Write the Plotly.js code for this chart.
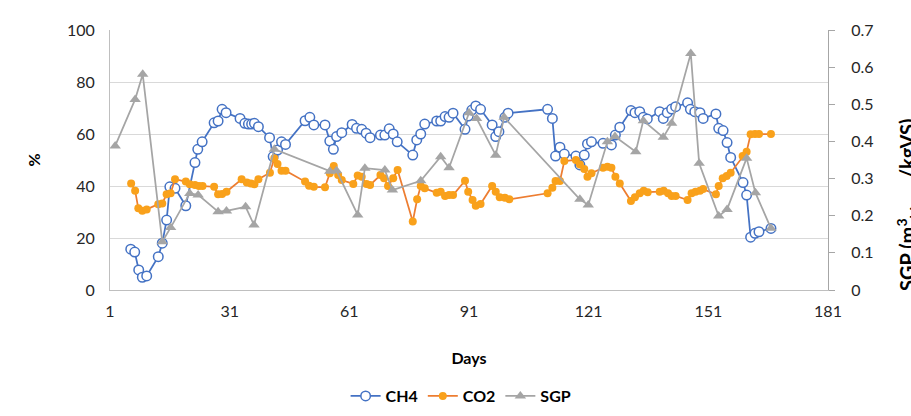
<!DOCTYPE html>
<html>
<head>
<meta charset="utf-8">
<script src="https://cdn.plot.ly/plotly-3.0.1.min.js"></script>
<style>html,body{margin:0;padding:0;background:#fff;}#chart{width:911px;height:416px;}</style>
</head>
<body>
<div id="chart"></div>
<script>
const ch4Days = [6.2,7.2,8.2,9.1,10.2,13.1,14.1,15.2,16.0,17.3,
  20.0,22.3,23.0,24.1,27.1,28.1,29.1,30.1,33.6,34.8,
  35.7,36.5,37.2,38.2,41.0,41.9,43.0,44.0,45.0,49.9,
  51.1,52.1,54.9,56.1,57.0,57.8,59.1,61.7,62.8,64.1,
  65.2,66.2,68.8,69.9,71.0,72.0,73.0,76.9,77.9,78.9,
  79.9,82.9,83.9,85.0,86.0,87.0,90.0,90.8,91.7,92.7,
  93.9,96.8,97.7,98.5,100.0,100.8,110.7,111.9,112.7,113.8,
  114.9,117.8,118.8,119.9,120.7,121.7,124.6,126.7,127.7,128.8,
  131.6,132.6,133.8,134.7,135.7,138.8,139.7,140.7,141.8,142.8,
  145.8,146.5,147.6,148.9,149.7,152.9,153.6,154.7,155.7,156.6,
  159.7,160.6,161.6,162.7,163.7,166.7];
const ch4 = [15.7,14.6,7.7,4.9,5.4,12.8,18.0,26.9,39.7,39.1,
  32.4,49.0,54.1,57.0,64.3,65.0,69.5,68.2,66.0,64.1,
  63.8,63.8,64.1,62.8,58.6,51.3,53.8,57.0,56.0,65.1,
  66.4,63.5,63.5,57.3,54.1,59.0,60.5,63.7,62.2,61.8,
  60.3,58.6,59.6,59.6,62.0,60.0,57.0,51.9,57.7,60.0,
  63.8,65.0,65.0,66.7,66.4,68.0,61.8,66.9,69.2,70.8,
  69.5,63.5,59.0,60.9,66.4,68.0,69.5,66.0,51.5,54.9,
  52.3,51.5,48.1,51.9,56.2,57.0,56.4,55.8,59.6,62.6,
  69.0,68.2,68.6,66.4,65.8,68.6,66.0,68.2,69.6,70.5,
  72.0,69.5,68.6,68.2,66.0,67.7,62.2,61.3,56.7,51.0,
  41.3,36.5,20.3,21.8,22.4,23.7];

const co2Days = [6.3,7.3,8.1,9.1,10.2,13.1,14.1,15.2,16.2,17.3,
  20.0,21.0,22.3,23.3,24.2,27.1,28.1,29.1,30.2,34.0,
  35.3,36.3,37.2,38.2,41.1,42.2,43.0,44.0,45.0,49.9,
  50.9,52.1,54.9,56.1,57.1,58.2,59.1,62.0,63.1,64.1,
  65.3,66.2,68.8,69.7,70.7,72.0,73.1,76.9,78.0,78.9,
  79.9,82.9,83.9,85.0,86.0,87.0,90.0,90.8,91.9,92.7,
  93.9,96.8,97.7,98.7,100.0,101.1,110.7,111.9,112.7,113.8,
  114.9,117.8,118.8,119.9,120.7,121.7,124.6,125.7,126.7,127.7,
  128.8,131.6,132.6,133.8,134.8,135.8,138.8,139.8,140.9,141.8,
  142.8,145.8,146.8,147.8,148.9,149.7,152.9,153.6,154.6,155.6,
  156.6,159.6,160.6,161.6,162.7,163.7,166.7];
const co2 = [41.0,38.2,31.4,30.5,31.0,33.0,33.3,36.8,37.2,42.6,
  41.7,40.7,40.4,40.0,40.0,39.7,36.8,36.9,37.8,42.6,
  41.3,41.0,40.7,42.6,45.1,50.7,48.5,45.9,45.9,41.7,
  40.1,39.7,39.5,44.9,47.7,44.2,42.3,40.8,44.0,43.6,
  40.8,40.4,44.2,43.0,40.0,43.0,46.2,26.3,34.9,40.0,
  39.1,37.4,37.8,36.2,36.5,36.5,42.0,37.8,34.6,32.4,
  33.1,40.0,37.8,35.7,35.5,34.9,37.2,39.3,41.9,41.9,
  49.6,50.0,48.3,46.5,43.6,44.9,47.0,47.4,47.0,43.6,
  41.0,34.2,35.7,37.2,38.2,37.6,37.8,38.2,37.2,36.2,
  36.2,34.6,37.2,37.8,38.2,38.8,36.8,40.0,43.0,43.8,
  45.1,51.5,53.2,59.9,60.0,60.0,60.0];

const sgpDays = [2.3,7.3,9.2,14.1,16.2,21.0,23.1,28.1,30.2,35.0,
  37.1,42.2,56.1,57.8,63.1,64.9,69.9,71.8,78.9,83.9,
  86.0,91.0,92.9,97.7,99.8,118.8,120.9,125.7,127.6,132.8,
  134.7,139.7,141.8,146.6,148.7,153.6,155.7,160.6,162.8,166.7];
const sgp = [0.388,0.513,0.581,0.130,0.168,0.260,0.256,0.211,0.213,0.224,
  0.175,0.379,0.320,0.321,0.202,0.328,0.323,0.269,0.294,0.359,
  0.329,0.477,0.462,0.363,0.465,0.244,0.229,0.399,0.413,0.372,
  0.456,0.411,0.449,0.637,0.341,0.199,0.217,0.355,0.262,0.166];

const FONT = 'Lato, "Open Sans", sans-serif';

const traces = [
  {x: ch4Days, y: ch4, name: 'CH4', type: 'scatter', mode: 'lines+markers',
   line: {color: '#4472C4', width: 1.75},
   marker: {symbol: 'circle', size: 9.5, color: '#FFFFFF', line: {color: '#4472C4', width: 1.5}}},
  {x: co2Days, y: co2, name: 'CO2', type: 'scatter', mode: 'lines+markers',
   line: {color: '#ED7D31', width: 1.75},
   marker: {symbol: 'circle', size: 8, color: '#F9A11B', line: {width: 0}}},
  {x: sgpDays, y: sgp, name: 'SGP', type: 'scatter', mode: 'lines+markers', yaxis: 'y2',
   line: {color: '#A5A5A5', width: 1.75},
   marker: {symbol: 'triangle-up', size: 10, color: '#A5A5A5', line: {width: 0}}}
];

const layout = {
  width: 911, height: 416,
  margin: {l: 110, r: 83, t: 30, b: 126, autoexpand: false},
  paper_bgcolor: '#FFFFFF', plot_bgcolor: '#FFFFFF',
  font: {family: FONT, size: 16, color: '#404040'},
  showlegend: true,
  legend: {orientation: 'h', x: 0.489, xanchor: 'center', y: -0.408, yanchor: 'middle',
           font: {family: FONT, size: 16, color: '#000000', weight: 'bold'}},
  xaxis: {range: [1, 181], tick0: 1, dtick: 30, showgrid: false, zeroline: false,
          showline: true, linecolor: '#BFBFBF', linewidth: 1, ticks: '',
          ticklabelstandoff: 7, automargin: false,
          tickfont: {family: FONT, size: 16, color: '#262626'},
          title: {text: '<b>Days</b>', standoff: 33, font: {family: FONT, size: 16, color: '#000000'}}},
  yaxis: {range: [0, 100], dtick: 20, showgrid: true, gridcolor: '#D9D9D9', gridwidth: 1,
          zeroline: false, showline: true, linecolor: '#BFBFBF', linewidth: 1, ticks: '',
          ticklabelstandoff: 11, automargin: false,
          tickfont: {family: FONT, size: 16, color: '#262626'},
          title: {text: '<b>%</b>', standoff: 22, font: {family: FONT, size: 16, color: '#000000'}}},
  yaxis2: {range: [0, 0.7], dtick: 0.1, overlaying: 'y', side: 'right', showgrid: false,
           zeroline: false, showline: true, linecolor: '#A6A6A6', linewidth: 1,
           ticks: 'outside', ticklen: 6, tickcolor: '#A6A6A6', ticklabelstandoff: 13,
           automargin: false,
           tickfont: {family: FONT, size: 16, color: '#262626'}},
  annotations: [
    {xref: 'paper', yref: 'paper', x: 1.1114, y: 0.327, xanchor: 'center', yanchor: 'middle',
     textangle: -90, showarrow: false,
     text: '<b>SGP (m<sup>3</sup><sub>biogas</sub>/kgVS)</b>',
     font: {family: FONT, size: 20, color: '#000000'}}
  ]
};

Plotly.newPlot('chart', traces, layout, {displayModeBar: false, responsive: false});
</script>
</body>
</html>
